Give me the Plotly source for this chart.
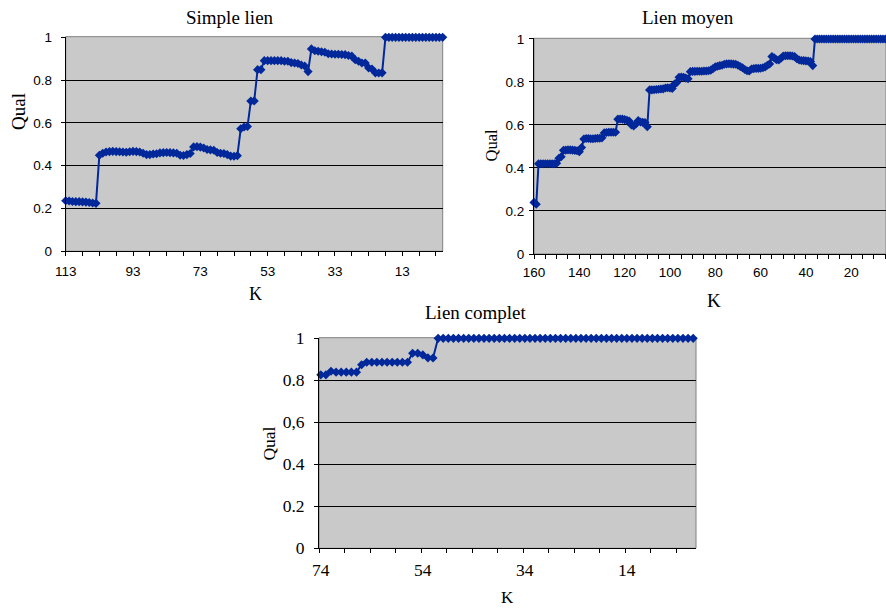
import plotly.graph_objects as go

W, H = 886, 608

# ---------------- data ----------------
k_simple = list(range(113, 0, -1))
qual_simple = [
    0.236, 0.235, 0.233, 0.232, 0.232, 0.231, 0.230, 0.228, 0.226, 0.224,
    0.449, 0.458, 0.464,
    0.466, 0.467, 0.466, 0.465, 0.464, 0.463, 0.465, 0.467, 0.466, 0.464,
    0.458, 0.452, 0.452,
    0.455, 0.456, 0.460, 0.461, 0.462, 0.461, 0.460, 0.458,
    0.449, 0.448, 0.452, 0.457,
    0.488, 0.489, 0.487, 0.483,
    0.476, 0.474, 0.472, 0.462, 0.458, 0.457, 0.452,
    0.445, 0.444, 0.447,
    0.573, 0.581, 0.583,
    0.702, 0.703,
    0.849, 0.849,
    0.891, 0.891, 0.891, 0.891, 0.891, 0.891, 0.888, 0.888,
    0.882, 0.880, 0.878, 0.871, 0.866, 0.840,
    0.946, 0.937, 0.935, 0.933, 0.930,
    0.923, 0.922, 0.921, 0.921, 0.920, 0.919, 0.915, 0.912,
    0.895, 0.888, 0.880, 0.880, 0.857, 0.852,
    0.834, 0.833, 0.834,
    1.0, 1.0, 1.0, 1.0, 1.0, 1.0, 1.0, 1.0, 1.0,
    1.0, 1.0, 1.0, 1.0, 1.0, 1.0, 1.0, 1.0, 1.0,
]

k_moyen = list(range(160, 0, -1))
qual_moyen = [
    0.240, 0.231,
    0.420, 0.420, 0.420, 0.420, 0.420, 0.420, 0.420, 0.420, 0.422,
    0.445, 0.452,
    0.482, 0.483, 0.484, 0.484, 0.483, 0.482, 0.480,
    0.476,
    0.495,
    0.535, 0.537, 0.537, 0.536, 0.536, 0.537, 0.538, 0.538, 0.540,
    0.563, 0.565, 0.566, 0.566, 0.566, 0.566,
    0.627, 0.628, 0.627, 0.625, 0.622, 0.618,
    0.600, 0.596, 0.605, 0.620,
    0.614, 0.612, 0.611, 0.592,
    0.763, 0.763, 0.764, 0.765, 0.766, 0.767, 0.768,
    0.772, 0.773, 0.772, 0.770,
    0.790, 0.797,
    0.822, 0.823, 0.822, 0.818, 0.815,
    0.848, 0.849, 0.849, 0.850, 0.850, 0.850, 0.851, 0.851, 0.852, 0.855,
    0.862, 0.870, 0.873, 0.876, 0.878,
    0.882, 0.884, 0.885, 0.884, 0.883, 0.882,
    0.878, 0.872, 0.866, 0.858, 0.852, 0.851,
    0.860, 0.862, 0.863, 0.863, 0.864, 0.866, 0.870, 0.878, 0.884,
    0.918, 0.912, 0.903, 0.902, 0.910,
    0.921, 0.922, 0.922, 0.922, 0.921, 0.918,
    0.908, 0.902, 0.900, 0.899, 0.898, 0.897, 0.895, 0.876,
    1.0, 1.0, 1.0, 1.0, 1.0, 1.0, 1.0, 1.0, 1.0, 1.0, 1.0, 1.0,
    1.0, 1.0, 1.0, 1.0, 1.0, 1.0, 1.0, 1.0, 1.0, 1.0, 1.0, 1.0,
    1.0, 1.0, 1.0, 1.0, 1.0, 1.0, 1.0, 1.0, 1.0, 1.0, 1.0, 1.0,
]

k_complet = list(range(74, 0, -1))
qual_complet = [
    0.826, 0.826,
    0.843,
    0.839, 0.839, 0.839, 0.839, 0.839,
    0.874,
    0.886, 0.886, 0.886, 0.886, 0.886, 0.886, 0.886, 0.886, 0.886,
    0.929, 0.929,
    0.921,
    0.907, 0.906,
] + [1.0] * 51

titles = ["Simple lien", "Lien moyen", "Lien complet"]
x_label = "K"
y_label = "Qual"
xt_simple = [113, 93, 73, 53, 33, 13]
xt_moyen = [160, 140, 120, 100, 80, 60, 40, 20]
xt_complet = [74, 54, 34, 14]
y_vals = [0, 0.2, 0.4, 0.6, 0.8, 1]
yt_simple = ["0", "0.2", "0.4", "0.6", "0.8", "1"]
yt_moyen = ["0", "0.2", "0.4", "0.6", "0.8", "1"]
yt_complet = ["0", "0.2", "0.4", "0,6", "0.8", "1"]

# ---------------- style ----------------
NAVY = "#00289A"
BG = "#C9C9C9"
SANS = "Liberation Sans, Arial, sans-serif"
SERIF = "Liberation Serif, Times New Roman, serif"


def fx(p):
    return p / W


def fy(p):
    return 1 - p / H


fig = go.Figure()

panels = [
    dict(k=k_simple, q=qual_simple, xa="x", ya="y",
         xd=(65.7, 442.7), yd=(36.7, 251.3), xr=[113, 1],
         xt=xt_simple, minor=list(range(3, 114, 5)), yt=yt_simple,
         font=dict(family=SANS, size=13.5, color="black"), major_ticks=True,
         xstand=3, ystand=6),
    dict(k=k_moyen, q=qual_moyen, xa="x2", ya="y2",
         xd=(534, 886), yd=(38.3, 254), xr=[160, 4.66],
         xt=xt_moyen, minor=list(range(5, 161, 5)), yt=yt_moyen,
         font=dict(family=SANS, size=13.5, color="black"), major_ticks=True,
         xstand=2, ystand=2),
    dict(k=k_complet, q=qual_complet, xa="x3", ya="y3",
         xd=(319, 696), yd=(337.7, 548.3), xr=[74.35, 0.45],
         xt=xt_complet, minor=[4.35 + 5 * i for i in range(15)], yt=yt_complet,
         font=dict(family=SERIF, size=17.5, color="black"), major_ticks=False,
         xstand=6, ystand=6),
]

layout_axes = {}
shapes = []
for i, p in enumerate(panels):
    fig.add_trace(go.Scatter(
        x=p["k"], y=p["q"], mode="lines+markers",
        line=dict(color=NAVY, width=2),
        marker=dict(symbol="diamond", size=7, color=NAVY),
        cliponaxis=False, showlegend=False,
        xaxis=p["xa"], yaxis=p["ya"], hoverinfo="x+y",
    ))
    xname = "xaxis" if p["xa"] == "x" else "xaxis" + p["xa"][1:]
    yname = "yaxis" if p["ya"] == "y" else "yaxis" + p["ya"][1:]
    layout_axes[xname] = dict(
        domain=[fx(p["xd"][0]), fx(p["xd"][1])],
        anchor=p["ya"], range=p["xr"], automargin=False,
        tickmode="array", tickvals=p["xt"], ticktext=[str(v) for v in p["xt"]],
        ticks="outside" if p["major_ticks"] else "", ticklen=4, tickcolor="black",
        ticklabelstandoff=p["xstand"],
        showline=True, linecolor="black", linewidth=1,
        showgrid=False, zeroline=False, tickfont=p["font"],
        minor=dict(tickmode="array", tickvals=p["minor"], ticks="outside",
                   ticklen=4, tickcolor="black", showgrid=False),
        fixedrange=True,
    )
    layout_axes[yname] = dict(
        domain=[fy(p["yd"][1]), fy(p["yd"][0])],
        anchor=p["xa"], range=[0, 1.003], automargin=False,
        tickmode="array", tickvals=y_vals, ticktext=p["yt"],
        ticks="outside", ticklen=4, tickcolor="black",
        ticklabelstandoff=p["ystand"],
        showline=True, linecolor="black", linewidth=1,
        showgrid=True, gridcolor="black", gridwidth=1,
        zeroline=False, tickfont=p["font"], fixedrange=True,
    )
    shapes.append(dict(
        type="rect", xref=p["xa"] + " domain", yref=p["ya"] + " domain",
        x0=0, x1=1, y0=0, y1=1, line=dict(color="#808080", width=1),
        fillcolor="rgba(0,0,0,0)", layer="below",
    ))

ann = []
title_pos = [(230.3, 18), (688.3, 18), (475, 312)]
for t, (x, y) in zip(titles, title_pos):
    ann.append(dict(text=t, x=fx(x), y=fy(y), xref="paper", yref="paper",
                    xanchor="center", yanchor="middle", showarrow=False,
                    font=dict(family=SERIF, size=19, color="black")))
ylab_pos = [(18.3, 111.7, 19), (491.7, 145.7, 16.5), (269.3, 443.3, 17.5)]
for x, y, s in ylab_pos:
    ann.append(dict(text=y_label, x=fx(x), y=fy(y), xref="paper", yref="paper",
                    xanchor="center", yanchor="middle", showarrow=False, textangle=-90,
                    font=dict(family=SERIF, size=s, color="black")))
xlab_pos = [(255.5, 294, 18), (714.3, 300.5, 19), (507.3, 597.5, 17)]
for x, y, s in xlab_pos:
    ann.append(dict(text=x_label, x=fx(x), y=fy(y), xref="paper", yref="paper",
                    xanchor="center", yanchor="middle", showarrow=False,
                    font=dict(family=SERIF, size=s, color="black")))

fig.update_layout(
    width=W, height=H, margin=dict(l=0, r=0, t=0, b=0),
    paper_bgcolor="white", plot_bgcolor=BG,
    annotations=ann, shapes=shapes, showlegend=False,
    **layout_axes,
)

fig.write_html("out.html", config={"displayModeBar": False})
